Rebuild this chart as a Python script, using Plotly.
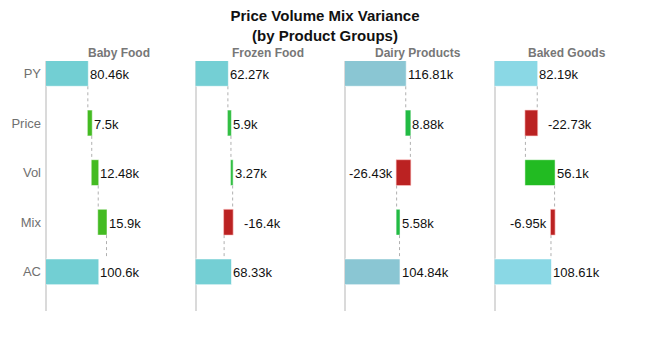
import plotly.graph_objects as go

# ---- data (values in thousands) ----
groups = ["Baby Food", "Frozen Food", "Dairy Products", "Baked Goods"]
steps = ["PY", "Price", "Vol", "Mix", "AC"]
measures = ["absolute", "relative", "relative", "relative", "absolute"]
baby_food = [80.46, 7.5, 12.48, 15.9, 100.6]
frozen_food = [62.27, 5.9, 3.27, -16.4, 68.33]
dairy_products = [116.81, 8.88, -26.43, 5.58, 104.84]
baked_goods = [82.19, -22.73, 56.1, -6.95, 108.61]
series = [baby_food, frozen_food, dairy_products, baked_goods]

# label side per bar: r = right of bar, R = right with gap, l = left of bar
label_side = [
    ["r", "r", "r", "r", "r"],
    ["r", "r", "r", "R", "r"],
    ["r", "r", "l", "r", "r"],
    ["r", "R", "r", "l", "r"],
]

total_colors = ["#72CFD3", "#74CFD4", "#8AC6D3", "#8AD8E5"]
inc_colors = ["#44BB22", "#33BF44", "#22BB44", "#22BB22"]
dec_color = "#BB2222"

FONT = "Liberation Sans, Arial, sans-serif"

fig = go.Figure()

plot_w = 594.0
panel_w = 145.5
step = 149.5
x_max = panel_w / 0.52

annotations = []
for i, (g, vals) in enumerate(zip(groups, series)):
    xa = "x" if i == 0 else f"x{i+1}"
    ya = "y"
    fig.add_trace(go.Waterfall(
        orientation="h",
        y=steps,
        x=vals,
        measure=measures,
        xaxis=xa,
        yaxis=ya,
        width=0.52,
        textposition="none",
        connector=dict(mode="between", line=dict(color="#B0B0B0", width=1, dash="dot")),
        totals=dict(marker=dict(color=total_colors[i], line=dict(color="rgba(255,255,255,0.6)", width=1))),
        increasing=dict(marker=dict(color=inc_colors[i], line=dict(color="rgba(255,255,255,0.5)", width=1))),
        decreasing=dict(marker=dict(color=dec_color, line=dict(color="rgba(255,200,200,0.6)", width=1))),
        showlegend=False,
        hoverinfo="skip",
    ))
    # labels
    cum = 0.0
    for j, (s, v, m) in enumerate(zip(steps, vals, measures)):
        if m == "absolute":
            base, end = 0.0, v
            cum = v
        else:
            base, end = cum, cum + v
            cum = end
        side = label_side[i][j]
        if side == "l":
            xpos, anchor, shift = min(base, end), "right", -2
        elif side == "R":
            xpos, anchor, shift = max(base, end), "left", 9
        else:
            xpos, anchor, shift = max(base, end), "left", 0
        annotations.append(dict(
            x=xpos, y=s, xref=xa, yref=ya, text=f"{v:g}k",
            showarrow=False, xanchor=anchor, yanchor="middle", xshift=shift, yshift=-1,
            font=dict(family=FONT, size=13, color="#111"),
        ))
    # panel title
    d0 = i * step / plot_w
    d1 = (i * step + panel_w) / plot_w
    annotations.append(dict(
        x=(d0 + d1) / 2, y=1.0, xref="paper", yref="paper", text=f"<b>{g}</b>",
        showarrow=False, xanchor="center", yanchor="bottom", yshift=-1,
        font=dict(family=FONT, size=12, color="#777"),
    ))
    axis = dict(
        domain=[d0, d1], range=[0, x_max], showgrid=False, showticklabels=False,
        zeroline=True, zerolinecolor="#DADADA", zerolinewidth=1.5, fixedrange=True,
        anchor="y",
    )
    fig.layout["xaxis" if i == 0 else f"xaxis{i+1}"] = axis

fig.update_layout(
    width=650, height=354,
    margin=dict(l=46, r=10, t=61, b=43),
    paper_bgcolor="white", plot_bgcolor="white",
    title=dict(text="<b>Price Volume Mix Variance<br>(by Product Groups)</b>",
               x=0.5, xanchor="center", y=0.94, yanchor="top",
               font=dict(family=FONT, size=15, color="#111")),
    yaxis=dict(categoryorder="array", categoryarray=steps, range=[4.79, -0.25],
               showgrid=False, zeroline=False, showline=False, ticks="",
               tickfont=dict(family=FONT, size=13, color="#707070"), ticklabelstandoff=4),
    annotations=annotations,
    font=dict(family=FONT),
)

fig.write_html("out.html")
